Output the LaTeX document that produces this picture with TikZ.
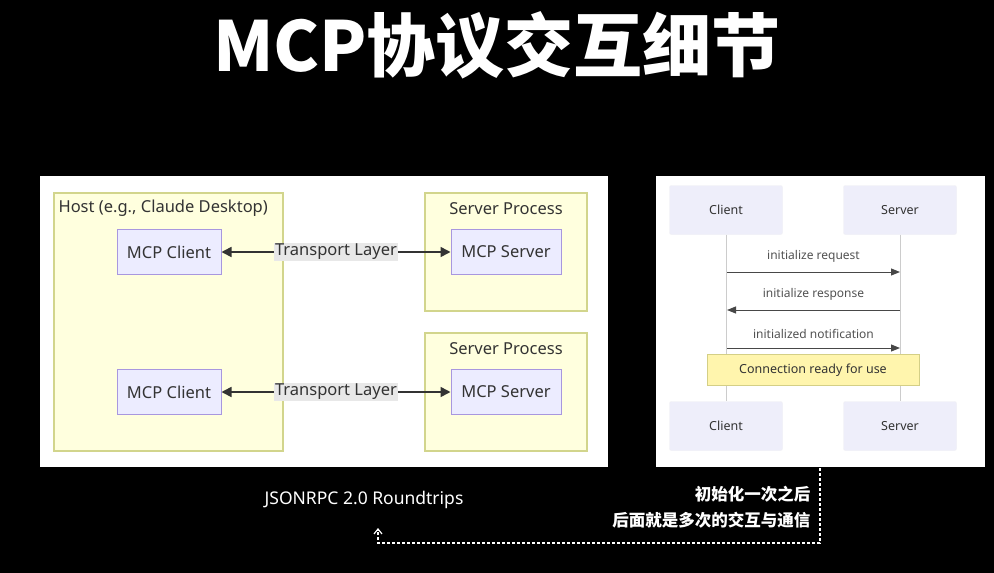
\documentclass[tikz,border=0pt]{standalone}
\usepackage{fontspec}
\setmainfont{Noto Sans}
\newfontfamily\cjk{Noto Sans CJK SC}
\usepackage{tikz}
\usetikzlibrary{positioning, arrows.meta}

\definecolor{hostfill}{HTML}{FFFFDE}
\definecolor{hostdraw}{HTML}{D2D58C}
\definecolor{boxfill}{HTML}{ECECFF}
\definecolor{boxdraw}{HTML}{A897DF}
\definecolor{actfill}{HTML}{EEEEFA}
\definecolor{notefill}{HTML}{FFF5AD}
\definecolor{notedraw}{HTML}{D4CF86}
\definecolor{inkgray}{HTML}{333333}

\tikzset{
  group/.style={draw=hostdraw, fill=hostfill, line width=1.2pt},
  mcpbox/.style={draw=boxdraw, fill=boxfill, line width=1pt, minimum width=104pt, minimum height=45pt, font=\fontsize{16.5}{20}\selectfont, text=inkgray},
  srvbox/.style={mcpbox, minimum width=110pt},
  actor/.style={draw=actfill!80!gray!40, fill=actfill, rounded corners=2pt, minimum width=113pt, minimum height=49pt, font=\fontsize{12.5}{15}\selectfont, text=inkgray},
  msg/.style={font=\fontsize{12}{14}\selectfont, text=inkgray!85},
  link/.style={{Triangle[length=10pt,width=10pt]}-{Triangle[length=10pt,width=10pt]}, line width=1.6pt, inkgray},
  arr/.style={-{Triangle[length=9pt,width=7pt]}, line width=1pt, inkgray!90}
}

\begin{document}
\begin{tikzpicture}[x=1pt, y=-1pt]
% background
\fill[black] (0,0) rectangle (994,573);
\useasboundingbox (0,0) rectangle (994,573);

% title
\node[text=white, font=\cjk\bfseries\fontsize{69}{76}\selectfont] (title) at (497,45) {MCP协议交互细节};

% left panel
\fill[white] (40,176) rectangle (608,467);
\draw[group] (54,193) rectangle (283,451);
\node[anchor=north west, font=\fontsize{16.5}{20}\selectfont, text=inkgray] (host) at (55,196) {Host (e.g., Claude Desktop)};
\foreach \y/\n in {193/a, 333/b}{
  \draw[group] (425,\y) rectangle (587,\y+118);
  \node[font=\fontsize{16.5}{20}\selectfont, text=inkgray] (proc\n) at (506,\y+16) {Server Process};
}
\node[mcpbox] (client1) at (169,252) {MCP Client};
\node[mcpbox] (client2) at (169,392) {MCP Client};
\node[srvbox] (server1) at (506,252) {MCP Server};
\node[srvbox] (server2) at (506,392) {MCP Server};

% transport links
\foreach \i in {1,2}{
  \draw[link] (client\i) -- (server\i) node[midway, fill=gray!18, inner sep=1.5pt, font=\fontsize{16.5}{20}\selectfont, text=inkgray] (tl\i) {Transport Layer};
}

% right panel
\fill[white] (656,176) rectangle (985,467);
\node[actor] (cTop) at (726,210) {Client};
\node[actor] (sTop) at (900,210) {Server};
\node[actor] (cBot) at (726,426) {Client};
\node[actor] (sBot) at (900,426) {Server};
\draw[gray!40, line width=0.8pt] (cTop) -- (cBot);
\draw[gray!40, line width=0.8pt] (sTop) -- (sBot);

% messages
\coordinate (c1) at (727,272); \coordinate (s1) at (900,272);
\coordinate (c2) at (727,310); \coordinate (s2) at (900,310);
\coordinate (c3) at (727,348); \coordinate (s3) at (900,348);
\draw[arr] (c1) -- (s1) node[msg, midway, above=6pt] {initialize request};
\draw[arr] (s2) -- (c2) node[msg, midway, above=6pt] {initialize response};
\draw[arr] (c3) -- (s3) node[msg, midway, above=6pt] {initialized notification};
\node[draw=notedraw, fill=notefill, line width=0.8pt, minimum width=212pt, minimum height=31pt, font=\fontsize{12.5}{15}\selectfont, text=inkgray] (ready) at (813,370) {Connection ready for use};

% notes below
\node[text=white, font=\fontsize{17.5}{20}\selectfont] (rpc) at (364,500) {JSONRPC 2.0 Roundtrips};
\node[text=white, align=right, anchor=east, font=\cjk\bfseries\fontsize{16.5}{26}\selectfont] (cn) at (814,507) {初始化一次之后\\后面就是多次的交互与通信};
\coordinate (d0) at (820,468);
\coordinate (d1) at (820,543);
\coordinate (d2) at (378,543);
\coordinate (d3) at (378,528);
\draw[white, densely dashed, line width=1.2pt, -{Straight Barb[length=5pt,width=8pt]}] (d0) -- (d1) -- (d2) -- (d3);
\end{tikzpicture}
\end{document}
